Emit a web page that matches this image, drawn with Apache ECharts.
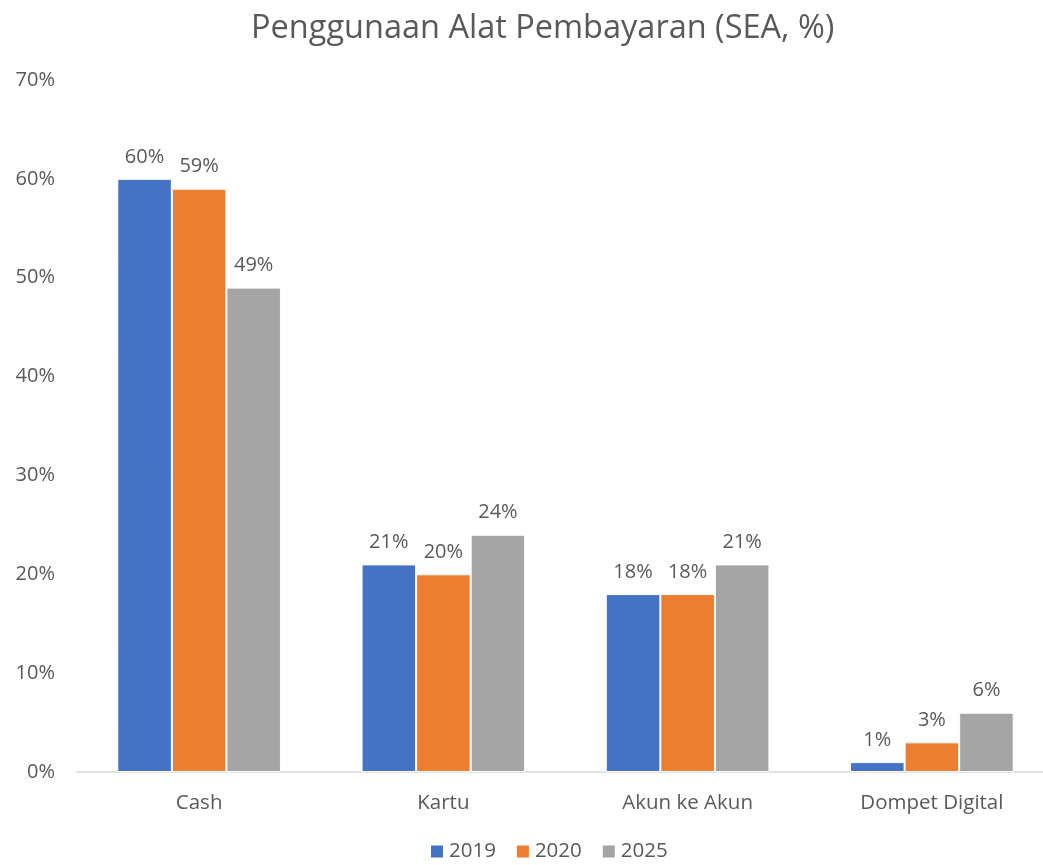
<!DOCTYPE html>
<html>
<head>
<meta charset="utf-8">
<script src="https://cdn.jsdelivr.net/npm/echarts@6/dist/echarts.min.js"></script>
<style>
  html, body { margin: 0; padding: 0; background: #fff; }
  #chart { width: 1043px; height: 865px; }
</style>
</head>
<body>
<div id="chart"></div>
<script>
const categories = ['Cash', 'Kartu', 'Akun ke Akun', 'Dompet Digital']
const years = ['2019', '2020', '2025']
const values2019 = [60, 21, 18, 1]
const values2020 = [59, 20, 18, 3]
const values2025 = [49, 24, 21, 6]
const yTicks = [0, 10, 20, 30, 40, 50, 60, 70]

const colors = ['#4472C4', '#ED7D31', '#A5A5A5']
const font = 'Open Sans, Noto Sans, sans-serif'
const textColor = '#595959'

const chart = echarts.init(document.getElementById('chart'))

const seriesList = [values2019, values2020, values2025].map((data, i) => ({
    name: years[i],
    type: 'bar',
    data: data,
    barGap: '0%',
    barCategoryGap: '33%',
    itemStyle: { color: colors[i], borderColor: '#fff', borderWidth: 1 },
    label: {
        show: true,
        position: 'top',
        distance: 12,
        formatter: (p) => p.value + '%',
        color: textColor,
        fontSize: 20,
        fontFamily: font
    }
}))

chart.setOption({
    title: {
        text: 'Penggunaan Alat Pembayaran (SEA, %)',
        left: 246,
        top: 7,
        textStyle: { color: textColor, fontSize: 32.5, fontWeight: 'normal', fontFamily: font }
    },
    legend: {
        data: years,
        bottom: -2,
        left: 424,
        itemWidth: 14,
        itemHeight: 14,
        itemGap: 19,
        icon: 'rect',
        textStyle: { color: textColor, fontSize: 20.5, fontFamily: font }
    },
    grid: {
        left: 77,
        top: 80,
        width: 977,
        bottom: 93,
        containLabel: false,
        outerBoundsMode: 'none'
    },
    xAxis: {
        type: 'category',
        data: categories,
        axisLine: { lineStyle: { color: '#D9D9D9', width: 1.5 } },
        axisTick: { show: false },
        axisLabel: { color: textColor, fontSize: 20.5, fontFamily: font, margin: 21 }
    },
    yAxis: {
        type: 'value',
        min: yTicks[0],
        max: yTicks[yTicks.length - 1],
        interval: 10,
        splitLine: { show: false },
        axisLine: { show: false },
        axisTick: { show: false },
        axisLabel: { color: textColor, fontSize: 20, fontFamily: font, margin: 22, formatter: '{value}%' }
    },
    series: seriesList
})
</script>
</body>
</html>
